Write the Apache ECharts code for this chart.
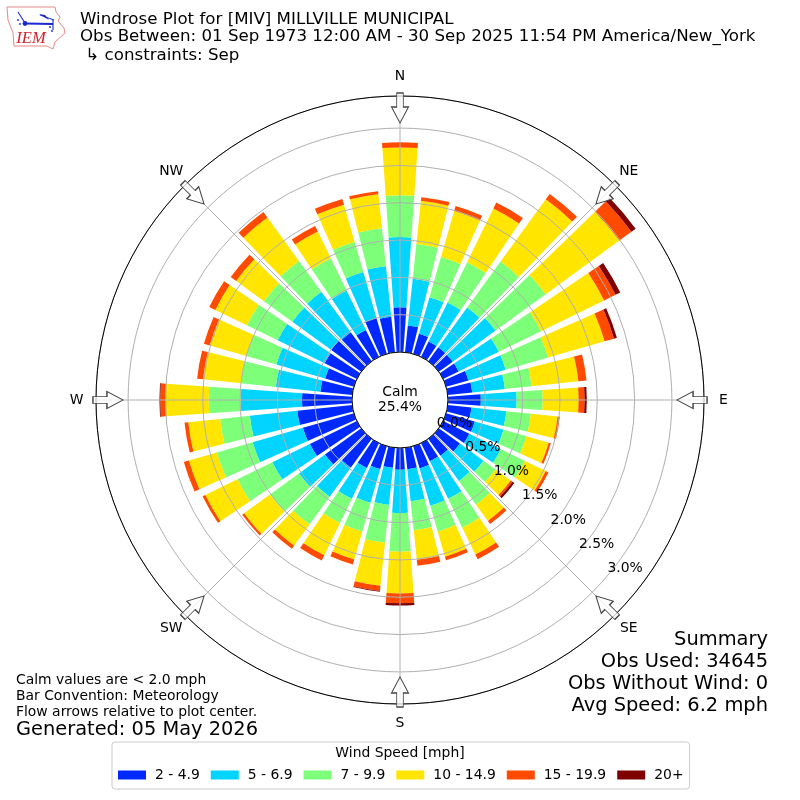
<!DOCTYPE html>
<html><head><meta charset="utf-8">
<style>html,body{margin:0;padding:0;background:#fff}#c{width:800px;height:800px}</style>
<script src="https://cdn.jsdelivr.net/npm/echarts@6/dist/echarts.min.js"></script>
</head><body><div id="c"></div>
<script>
const directions = ['N','10','20','30','40','50','60','70','80','90','100','110','120','130','140','150','160','170','180','190','200','210','220','230','240','250','260','270','280','290','300','310','320','330','340','350'];
const speedNames = ['2 - 4.9','5 - 6.9','7 - 9.9','10 - 14.9','15 - 19.9','20+'];
const speedColors = ['#0029ff','#00d4ff','#7dff7a','#ffe500','#ff4a00','#7f0000'];
const s2to5 = [.60,.36,.28,.23,.23,.23,.23,.31,.33,.44,.32,.40,.39,.35,.28,.27,.31,.29,.29,.27,.32,.37,.48,.60,.70,.71,.74,.67,.43,.40,.48,.50,.48,.40,.50,.48];
const s5to7 = [.94,.63,.51,.58,.66,.71,.60,.52,.44,.48,.47,.40,.47,.39,.42,.56,.52,.43,.58,.50,.47,.46,.48,.43,.56,.70,.64,.82,.60,.68,.70,.64,.67,.59,.64,.68];
const s7to10 = [.56,.47,.56,.60,.76,.83,.63,.59,.36,.35,.33,.32,.36,.20,.39,.43,.36,.39,.52,.51,.40,.36,.46,.48,.52,.50,.40,.43,.47,.42,.46,.47,.51,.48,.42,.51];
const s10to15 = [.64,.58,.64,.80,1.03,1.22,.94,.79,.63,.48,.36,.31,.31,.25,.27,.40,.35,.40,.56,.58,.39,.48,.35,.43,.48,.39,.43,.58,.51,.51,.47,.46,.72,.40,.52,.46];
const s15to20 = [.07,.05,.07,.09,.09,.20,.17,.13,.11,.08,.03,.03,.04,.03,.05,.07,.05,.08,.13,.07,.07,.08,.05,.03,.04,.07,.05,.07,.08,.08,.09,.09,.09,.08,.08,.04];
const s20plus = [0,0,0,0,0,.07,.07,.04,0,.03,0,0,0,.03,0,0,0,0,.03,.01,0,0,0,0,0,0,0,.01,0,0,0,0,0,0,0,0];
const speedSeries = [s2to5,s5to7,s7to10,s10to15,s15to20,s20plus];
const compassLabels = ['N','NE','E','SE','S','SW','W','NW'];
const compassAngles = [0,45,90,135,180,225,270,315];
const titleLines = ['Windrose Plot for [MIV] MILLVILLE MUNICIPAL','Obs Between: 01 Sep 1973 12:00 AM - 30 Sep 2025 11:54 PM America/New_York',' \u21B3 constraints: Sep'];
const noteLines = ['Calm values are < 2.0 mph','Bar Convention: Meteorology','Flow arrows relative to plot center.'];
const generated = 'Generated: 05 May 2026';
const summaryLines = ['Summary','Obs Used: 34645','Obs Without Wind: 0','Avg Speed: 6.2 mph'];
const calmLines = ['Calm','25.4%'];
const radialMax = 3.43, arrowRadius = 3.27;

const FONT = '"DejaVu Sans"';
const arrowPath = 'path://M5.2 0L11.8 0L11.8 14L17 14L8.5 30L0 14L5.2 14Z';
const txt = (text,x,y,size,align) => ({type:'text',z:20,x,y,style:{text,font:size+'px '+FONT,fill:'#000',textAlign:align||'left',textVerticalAlign:'middle'}});
const graphics = [];
titleLines.forEach((t,i)=>graphics.push(txt(t,80,[19.5,36.5,55.5][i],16.67)));
noteLines.forEach((t,i)=>graphics.push(txt(t,16,680+i*16,13.9)));
graphics.push(txt(generated,16,730,19.4));
summaryLines.forEach((t,i)=>graphics.push(txt(t,768,640+i*22,19.45,'right')));
calmLines.forEach((t,i)=>graphics.push(txt(t,400,392+i*15.5,13.9,'center')));
graphics.push(txt('Wind Speed [mph]',400,753,13.9,'center'));
graphics.push({type:'polygon',z:20,shape:{points:[[7,7],[55,7],[56,12],[60,17],[58,21],[64,28],[65,33],[55,42],[53,49],[47,46],[14,46],[13,33],[8,20]]},style:{fill:'#fff',stroke:'#e58a8a',lineWidth:1}});
[[[25,23.5],[53,24],1.8],[[18,12],[25,23],1.1],[[53,19],[53,30],1.1],[[40,15],[54,20],1]].forEach(p=>graphics.push({type:'polyline',z:21,shape:{points:[p[0],p[1]]},style:{stroke:'#1a2ad0',lineWidth:p[2],fill:null}}));
graphics.push({type:'circle',z:21,shape:{cx:25,cy:23.5,r:2.4},style:{fill:'#1a2ad0'}});
graphics.push({type:'polygon',z:21,shape:{points:[[39,14],[45,15],[49,20]]},style:{fill:'#1a2ad0'}});
[[20,24],[50,27],[52,31],[18,20]].forEach(c=>graphics.push({type:'circle',z:21,shape:{cx:c[0],cy:c[1],r:1},style:{fill:'#3040d8'}}));
graphics.push({type:'text',z:21,x:31,y:38.5,style:{text:'IEM',font:'italic 16.5px "Liberation Serif"',fill:'#d0202a',textAlign:'center',textVerticalAlign:'middle'}});

const barSeries = speedNames.map((name,i)=>({
  name,type:'bar',coordinateSystem:'polar',polarIndex:0,stack:'wind',z:2,
  barWidth:'80%',data:speedSeries[i],itemStyle:{color:speedColors[i]},silent:true
}));

const option = {
  animation:false,backgroundColor:'#fff',
  graphic:graphics,
  legend:{left:112,top:742,orient:'horizontal',padding:[26,6,7,6],itemWidth:28,itemHeight:9,itemGap:11,icon:'rect',
    data:speedNames,borderColor:'#cccccc',borderWidth:1,borderRadius:3,backgroundColor:'#fff',
    textStyle:{fontFamily:FONT,fontSize:13.9,color:'#000',padding:[0,0,0,4]},z:10,selectedMode:false},
  polar:[
    {center:[400,400],radius:[48,304]},
    {center:[400,400],radius:[48,304]},
    {center:[400,400],radius:[56.6,312.6]},
    {center:[400,400],radius:340}
  ],
  angleAxis:[
    {polarIndex:0,type:'category',data:directions,startAngle:95,clockwise:true,show:false,boundaryGap:true},
    {polarIndex:1,type:'value',min:0,max:360,interval:45,startAngle:90,clockwise:true,z:4,
      axisLine:{show:true,lineStyle:{color:'#000',width:1}},axisTick:{show:false},
      splitLine:{show:true,lineStyle:{color:'#b0b0b0',width:1}},axisLabel:{show:false}},
    {polarIndex:2,type:'value',min:0,max:360,startAngle:-40.4,clockwise:true,show:false},
    {polarIndex:3,type:'value',min:0,max:360,startAngle:90,clockwise:true,show:false}
  ],
  radiusAxis:[
    {polarIndex:0,type:'value',min:0,max:radialMax,show:false},
    {polarIndex:1,type:'value',min:0,max:radialMax,interval:.5,z:3,
      axisLine:{show:false},axisTick:{show:false},axisLabel:{show:false},
      splitLine:{show:true,lineStyle:{color:'#b0b0b0',width:1}}},
    {polarIndex:2,type:'value',min:0,max:radialMax,interval:.5,z:7,
      axisLine:{show:false},axisTick:{show:false},splitLine:{show:false},
      axisLabel:{show:true,margin:17.6,rotate:0,align:'center',verticalAlign:'middle',showMaxLabel:false,
        fontFamily:FONT,fontSize:13.9,color:'#000',formatter:v=>Number(v).toFixed(1)+'%'}},
    {polarIndex:3,type:'value',min:0,max:340,show:false}
  ],
  series:barSeries.concat([{
    type:'scatter',coordinateSystem:'polar',polarIndex:1,z:6,silent:true,
    symbol:arrowPath,symbolSize:[17,30],symbolKeepAspect:false,
    data:compassAngles.map(a=>({value:[arrowRadius,a],symbolRotate:-a})),
    itemStyle:{color:'rgba(255,255,255,0.75)',borderColor:'#444',borderWidth:1.1,opacity:1}
  },{
    type:'scatter',coordinateSystem:'polar',polarIndex:3,z:6,silent:true,symbol:'circle',symbolSize:1,
    data:compassAngles.map((a,i)=>({name:compassLabels[i],value:[323.5,a]})),
    itemStyle:{color:'rgba(0,0,0,0)',opacity:1},
    label:{show:true,position:'inside',formatter:'{b}',fontFamily:FONT,fontSize:13.9,color:'#000',opacity:1}
  }])
};
const chart = echarts.init(document.getElementById('c'),null,{renderer:'canvas'});
chart.setOption(option);
</script></body></html>
